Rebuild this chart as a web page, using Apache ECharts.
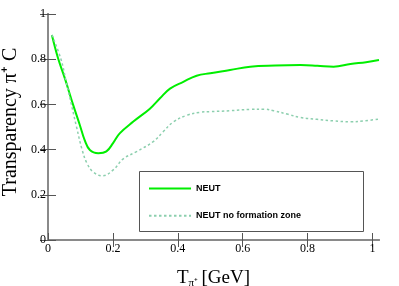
<!DOCTYPE html>
<html>
<head>
<meta charset="utf-8">
<script src="https://cdn.jsdelivr.net/npm/echarts@6/dist/echarts.min.js"></script>
<style>html,body{margin:0;padding:0;background:#fff}#c{width:399px;height:286px}</style>
</head>
<body>
<div id="c"></div>
<script>
const seriesNames = ['NEUT', 'NEUT no formation zone'];
const xTicks = [0, 0.2, 0.4, 0.6, 0.8, 1];
const yTicks = [0, 0.2, 0.4, 0.6, 0.8, 1];
const neutX = [0.012,0.031,0.052,0.077,0.098,0.113,0.129,0.155,0.18,0.201,0.221,0.263,0.314,0.345,0.376,0.417,0.458,0.5,0.561,0.623,0.7,0.778,0.83,0.88,0.932,0.98,1.02];
const neutY = [0.907,0.804,0.715,0.60,0.509,0.442,0.398,0.384,0.392,0.43,0.472,0.524,0.581,0.627,0.67,0.70,0.727,0.738,0.752,0.767,0.772,0.774,0.771,0.767,0.779,0.787,0.796];
const nfzX = [0.012,0.04,0.056,0.072,0.088,0.105,0.12,0.14,0.168,0.201,0.232,0.273,0.324,0.355,0.386,0.428,0.469,0.5,0.561,0.623,0.668,0.695,0.74,0.778,0.829,0.88,0.932,0.973,1.02];
const nfzY = [0.907,0.80,0.70,0.60,0.50,0.40,0.34,0.30,0.284,0.31,0.359,0.391,0.435,0.479,0.522,0.552,0.565,0.568,0.572,0.578,0.579,0.572,0.556,0.542,0.534,0.527,0.523,0.527,0.535];

const zip = (a, b) => a.map((v, i) => [v, b[i]]);
const axisColor = '#8a8a8a';
const serif = 'Liberation Serif';

const chart = echarts.init(document.getElementById('c'), null, {renderer: 'canvas'});
chart.setOption({
  animation: false,
  backgroundColor: '#fff',
  grid: {left: 48, right: 20, top: 14, bottom: 46, containLabel: false, outerBoundsMode: 'none'},
  xAxis: [{
    type: 'value', min: 0, max: 1.02,
    name: '{a|T}{b|π⁺} {a|[GeV]}',
    nameLocation: 'middle', nameGap: 29,
    nameTextStyle: {
      rich: {
        a: {fontFamily: serif, fontSize: 19, color: '#000', verticalAlign: 'top', lineHeight: 20},
        b: {fontFamily: serif, fontSize: 11, color: '#000', verticalAlign: 'bottom', lineHeight: 20}
      }
    },
    axisLine: {show: true, lineStyle: {color: axisColor, width: 2}},
    axisTick: {show: true, inside: true, length: 7, customValues: xTicks, lineStyle: {color: '#555', width: 1}},
    axisLabel: {customValues: xTicks, margin: 3, fontFamily: serif, fontSize: 12, color: '#000'},
    splitLine: {show: false}
  }, {
    type: 'value', min: 0, max: 1.02, position: 'top',
    axisLine: {show: true, lineStyle: {color: axisColor, width: 2}},
    axisTick: {show: true, inside: true, length: 7, customValues: xTicks.slice(1), lineStyle: {color: '#555', width: 1}},
    axisLabel: {show: false},
    splitLine: {show: false}
  }],
  yAxis: [{
    type: 'value', min: 0, max: 1, interval: 0.2,
    name: 'Transparency π⁺ C',
    nameLocation: 'middle', nameGap: 27, nameRotate: 90, nameMoveOverlap: false,
    nameTextStyle: {fontFamily: serif, fontSize: 20, color: '#000', padding: [0, 0, 0, 10]},
    axisLine: {show: true, lineStyle: {color: axisColor, width: 2}},
    axisTick: {show: true, inside: true, length: 8, lineStyle: {color: '#555', width: 1}},
    axisLabel: {margin: 2, fontFamily: serif, fontSize: 12, color: '#000', formatter: v => String(+v.toFixed(1))},
    splitLine: {show: false}
  }, {
    type: 'value', min: 0, max: 1, interval: 0.2, position: 'right',
    axisLine: {show: true, lineStyle: {color: axisColor, width: 2}},
    axisTick: {show: true, inside: true, length: 8, lineStyle: {color: '#555', width: 1}},
    axisLabel: {show: false},
    splitLine: {show: false}
  }],
  legend: {
    orient: 'vertical', left: 143, top: 178, itemWidth: 42, itemHeight: 14, itemGap: 16,
    itemStyle: {opacity: 0},
    textStyle: {fontFamily: 'Liberation Sans', fontWeight: 'bold', fontSize: 9, color: '#000'},
    data: seriesNames
  },
  graphic: [{
    type: 'rect', left: 139, top: 171, z: 0,
    shape: {width: 224, height: 60},
    style: {fill: '#fff', stroke: '#555', lineWidth: 1}
  }],
  series: [{
    name: seriesNames[0], type: 'line', smooth: 0.4, symbol: 'none',
    data: zip(neutX, neutY),
    lineStyle: {color: '#00ee00', width: 2},
    itemStyle: {color: '#00ee00'}
  }, {
    name: seriesNames[1], type: 'line', smooth: 0.4, symbol: 'none',
    data: zip(nfzX, nfzY),
    lineStyle: {color: '#8ccfae', width: 1.5, type: [2.5, 2.5]},
    itemStyle: {color: '#8ccfae'}
  }]
});
</script>
</body>
</html>
